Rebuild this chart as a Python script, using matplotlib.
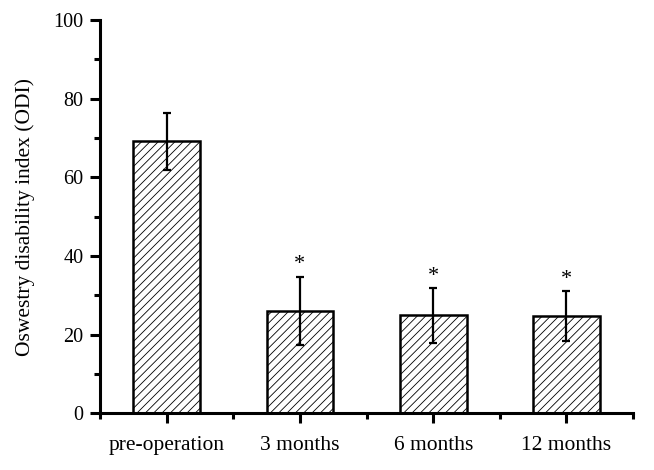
import matplotlib.pyplot as plt
import numpy as np

plt.rcParams['font.family'] = ['Liberation Serif', 'DejaVu Serif']
plt.rcParams['hatch.linewidth'] = 0.6

groups = ['pre-operation', '3 months', '6 months', '12 months']
odi_mean = [69.1, 26.0, 24.9, 24.7]
odi_sd = [7.3, 8.7, 6.9, 6.4]
signif = ['', '*', '*', '*']

fig = plt.figure(figsize=(6.54, 4.70), dpi=100)
ax = fig.add_axes([0.153, 0.1206, 0.815, 0.837])

x = np.arange(len(groups)) + 0.5
ax.bar(x, odi_mean, width=0.5, color='white', edgecolor='black',
       linewidth=1.8, hatch='////')
ax.errorbar(x, odi_mean, yerr=odi_sd, fmt='none', ecolor='black',
            elinewidth=1.6, capsize=3.2, capthick=1.6)

for xi, m, s, lab in zip(x, odi_mean, odi_sd, signif):
    if lab:
        ax.text(xi, m + s + 0.6, lab, ha='center', va='bottom', fontsize=16)

ax.set_xlim(0, 4)
ax.set_ylim(0, 100)
ax.set_xticks(x)
ax.set_xticklabels(groups, fontsize=15.5)
ax.set_xticks([0, 1, 2, 3, 4], minor=True)
ax.set_yticks([0, 20, 40, 60, 80, 100])
ax.set_yticks([10, 30, 50, 70, 90], minor=True)
ax.set_ylabel('Oswestry disability index (ODI)', fontsize=15.5, labelpad=13)

for side in ['top', 'right']:
    ax.spines[side].set_visible(False)
for side in ['left', 'bottom']:
    ax.spines[side].set_linewidth(2.2)

ax.tick_params(axis='both', which='major', direction='out', length=7,
               width=2.2)
ax.tick_params(axis='y', which='major', labelsize=14.5, pad=5)
ax.tick_params(axis='both', which='minor', direction='out', length=4,
               width=2.2)
ax.tick_params(axis='x', which='major', pad=9)

fig.savefig('out.png', dpi=100)
